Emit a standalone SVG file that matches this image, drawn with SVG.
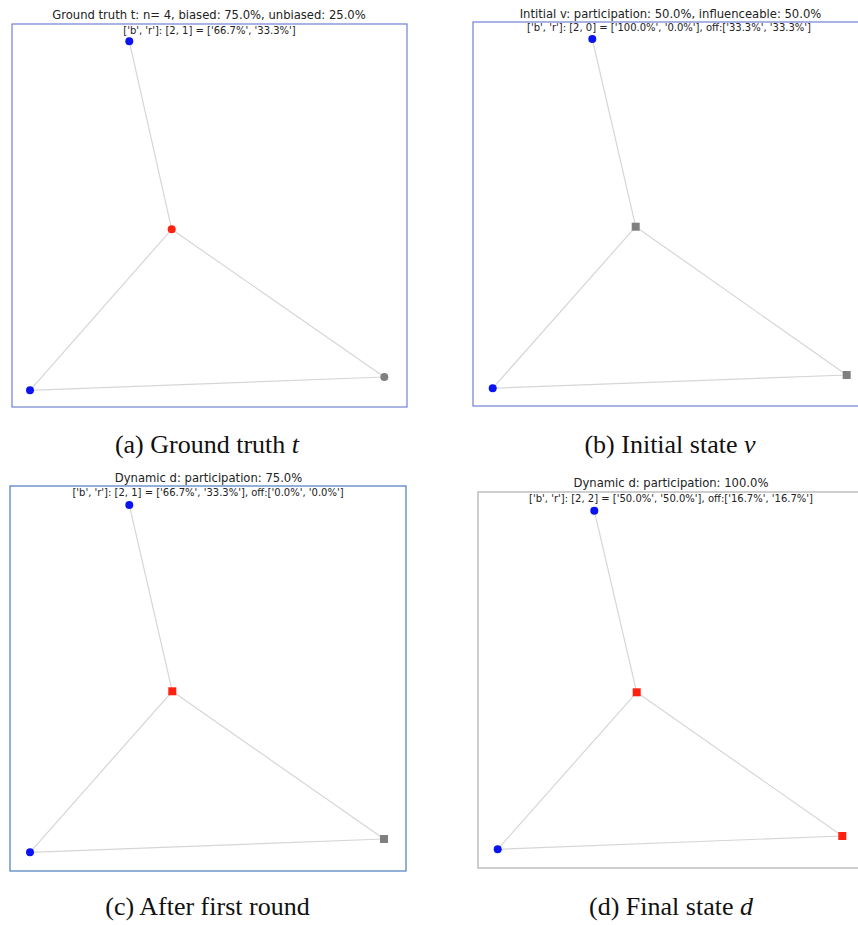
<svg xmlns="http://www.w3.org/2000/svg" width="858" height="925" viewBox="0 0 858 925">
<style>
.bg{fill:#ffffff}
.frameA{fill:none;stroke:#7b8ad6;stroke-width:1.3}
.frameC{fill:none;stroke:#5a86c8;stroke-width:1.3}
.frameD{fill:none;stroke:#b4b4b4;stroke-width:1.3}
.edge{stroke:#d6d6d6;stroke-width:1.2;fill:none}
.b{fill:#0a14f0}
.r{fill:#ff2010}
.g{fill:#808080}
.title{font-family:"DejaVu Sans",sans-serif;font-size:11.6px;fill:#222;text-anchor:middle}
.sub{font-family:"DejaVu Sans",sans-serif;font-size:10px;fill:#222;text-anchor:middle}
.cap{font-family:"Liberation Serif","Times New Roman",serif;font-size:26px;fill:#111;text-anchor:middle}
.it{font-style:italic}
</style>
<rect class="bg" x="0" y="0" width="858" height="925"/>

<!-- Panel (a) -->
<g id="panel-a">
  <rect class="frameA" x="12" y="24" width="395" height="383"/>
  <text class="title" x="209" y="19">Ground truth t: n= 4, biased: 75.0%, unbiased: 25.0%</text>
  <text class="sub" x="209.5" y="33.5">['b', 'r']: [2, 1] = ['66.7%', '33.3%']</text>
  <g id="edges-a">
    <line class="edge" x1="129.3" y1="41.3" x2="171.7" y2="229.3"/>
    <line class="edge" x1="171.7" y1="229.3" x2="30" y2="390.3"/>
    <line class="edge" x1="171.7" y1="229.3" x2="384.3" y2="377"/>
    <line class="edge" x1="30" y1="390.3" x2="384.3" y2="377"/>
  </g>
  <g id="a-n1"><circle class="b" cx="129.3" cy="41.3" r="4"/></g>
  <g id="a-n2"><circle class="r" cx="171.7" cy="229.3" r="4"/></g>
  <g id="a-n3"><circle class="b" cx="30" cy="390.3" r="4"/></g>
  <g id="a-n4"><circle class="g" cx="384.3" cy="377" r="4"/></g>
  <text class="cap" x="207" y="453">(a) Ground truth <tspan class="it">t</tspan></text>
</g>

<!-- Panel (b) -->
<g id="panel-b">
  <rect class="frameA" x="473" y="22" width="400" height="384"/>
  <text class="title" x="670.5" y="17.5">Intitial v: participation: 50.0%, influenceable: 50.0%</text>
  <text class="sub" x="669" y="31">['b', 'r']: [2, 0] = ['100.0%', '0.0%'], off:['33.3%', '33.3%']</text>
  <g id="edges-b">
    <line class="edge" x1="592.3" y1="39" x2="635.7" y2="226.7"/>
    <line class="edge" x1="635.7" y1="226.7" x2="492.7" y2="388.3"/>
    <line class="edge" x1="635.7" y1="226.7" x2="846.7" y2="375"/>
    <line class="edge" x1="492.7" y1="388.3" x2="846.7" y2="375"/>
  </g>
  <g id="b-n1"><circle class="b" cx="592.3" cy="39" r="4"/></g>
  <g id="b-n2"><rect class="g" x="631.7" y="222.7" width="8" height="8"/></g>
  <g id="b-n3"><circle class="b" cx="492.7" cy="388.3" r="4"/></g>
  <g id="b-n4"><rect class="g" x="842.7" y="371" width="8" height="8"/></g>
  <text class="cap" x="670" y="453">(b) Initial state <tspan class="it">v</tspan></text>
</g>

<!-- Panel (c) -->
<g id="panel-c">
  <rect class="frameC" x="10" y="486" width="396" height="385"/>
  <text class="title" x="208.5" y="481.5">Dynamic d: participation: 75.0%</text>
  <text class="sub" x="208" y="496">['b', 'r']: [2, 1] = ['66.7%', '33.3%'], off:['0.0%', '0.0%']</text>
  <g id="edges-c">
    <line class="edge" x1="129.3" y1="505" x2="172.3" y2="691.3"/>
    <line class="edge" x1="172.3" y1="691.3" x2="30" y2="852.3"/>
    <line class="edge" x1="172.3" y1="691.3" x2="384" y2="839"/>
    <line class="edge" x1="30" y1="852.3" x2="384" y2="839"/>
  </g>
  <g id="c-n1"><circle class="b" cx="129.3" cy="505" r="4"/></g>
  <g id="c-n2"><rect class="r" x="168.3" y="687.3" width="8" height="8"/></g>
  <g id="c-n3"><circle class="b" cx="30" cy="852.3" r="4"/></g>
  <g id="c-n4"><rect class="g" x="380" y="835" width="8" height="8"/></g>
  <text class="cap" x="207.5" y="915">(c) After first round</text>
</g>

<!-- Panel (d) -->
<g id="panel-d">
  <rect class="frameD" x="478" y="492" width="400" height="376"/>
  <text class="title" x="671" y="486.5">Dynamic d: participation: 100.0%</text>
  <text class="sub" x="671" y="501.5">['b', 'r']: [2, 2] = ['50.0%', '50.0%'], off:['16.7%', '16.7%']</text>
  <g id="edges-d">
    <line class="edge" x1="594.3" y1="510.7" x2="636.7" y2="692.3"/>
    <line class="edge" x1="636.7" y1="692.3" x2="497.7" y2="849.3"/>
    <line class="edge" x1="636.7" y1="692.3" x2="842.3" y2="836"/>
    <line class="edge" x1="497.7" y1="849.3" x2="842.3" y2="836"/>
  </g>
  <g id="d-n1"><circle class="b" cx="594.3" cy="510.7" r="4"/></g>
  <g id="d-n2"><rect class="r" x="632.7" y="688.3" width="8" height="8"/></g>
  <g id="d-n3"><circle class="b" cx="497.7" cy="849.3" r="4"/></g>
  <g id="d-n4"><rect class="r" x="838.3" y="832" width="8" height="8"/></g>
  <text class="cap" x="671" y="915">(d) Final state <tspan class="it">d</tspan></text>
</g>
</svg>
